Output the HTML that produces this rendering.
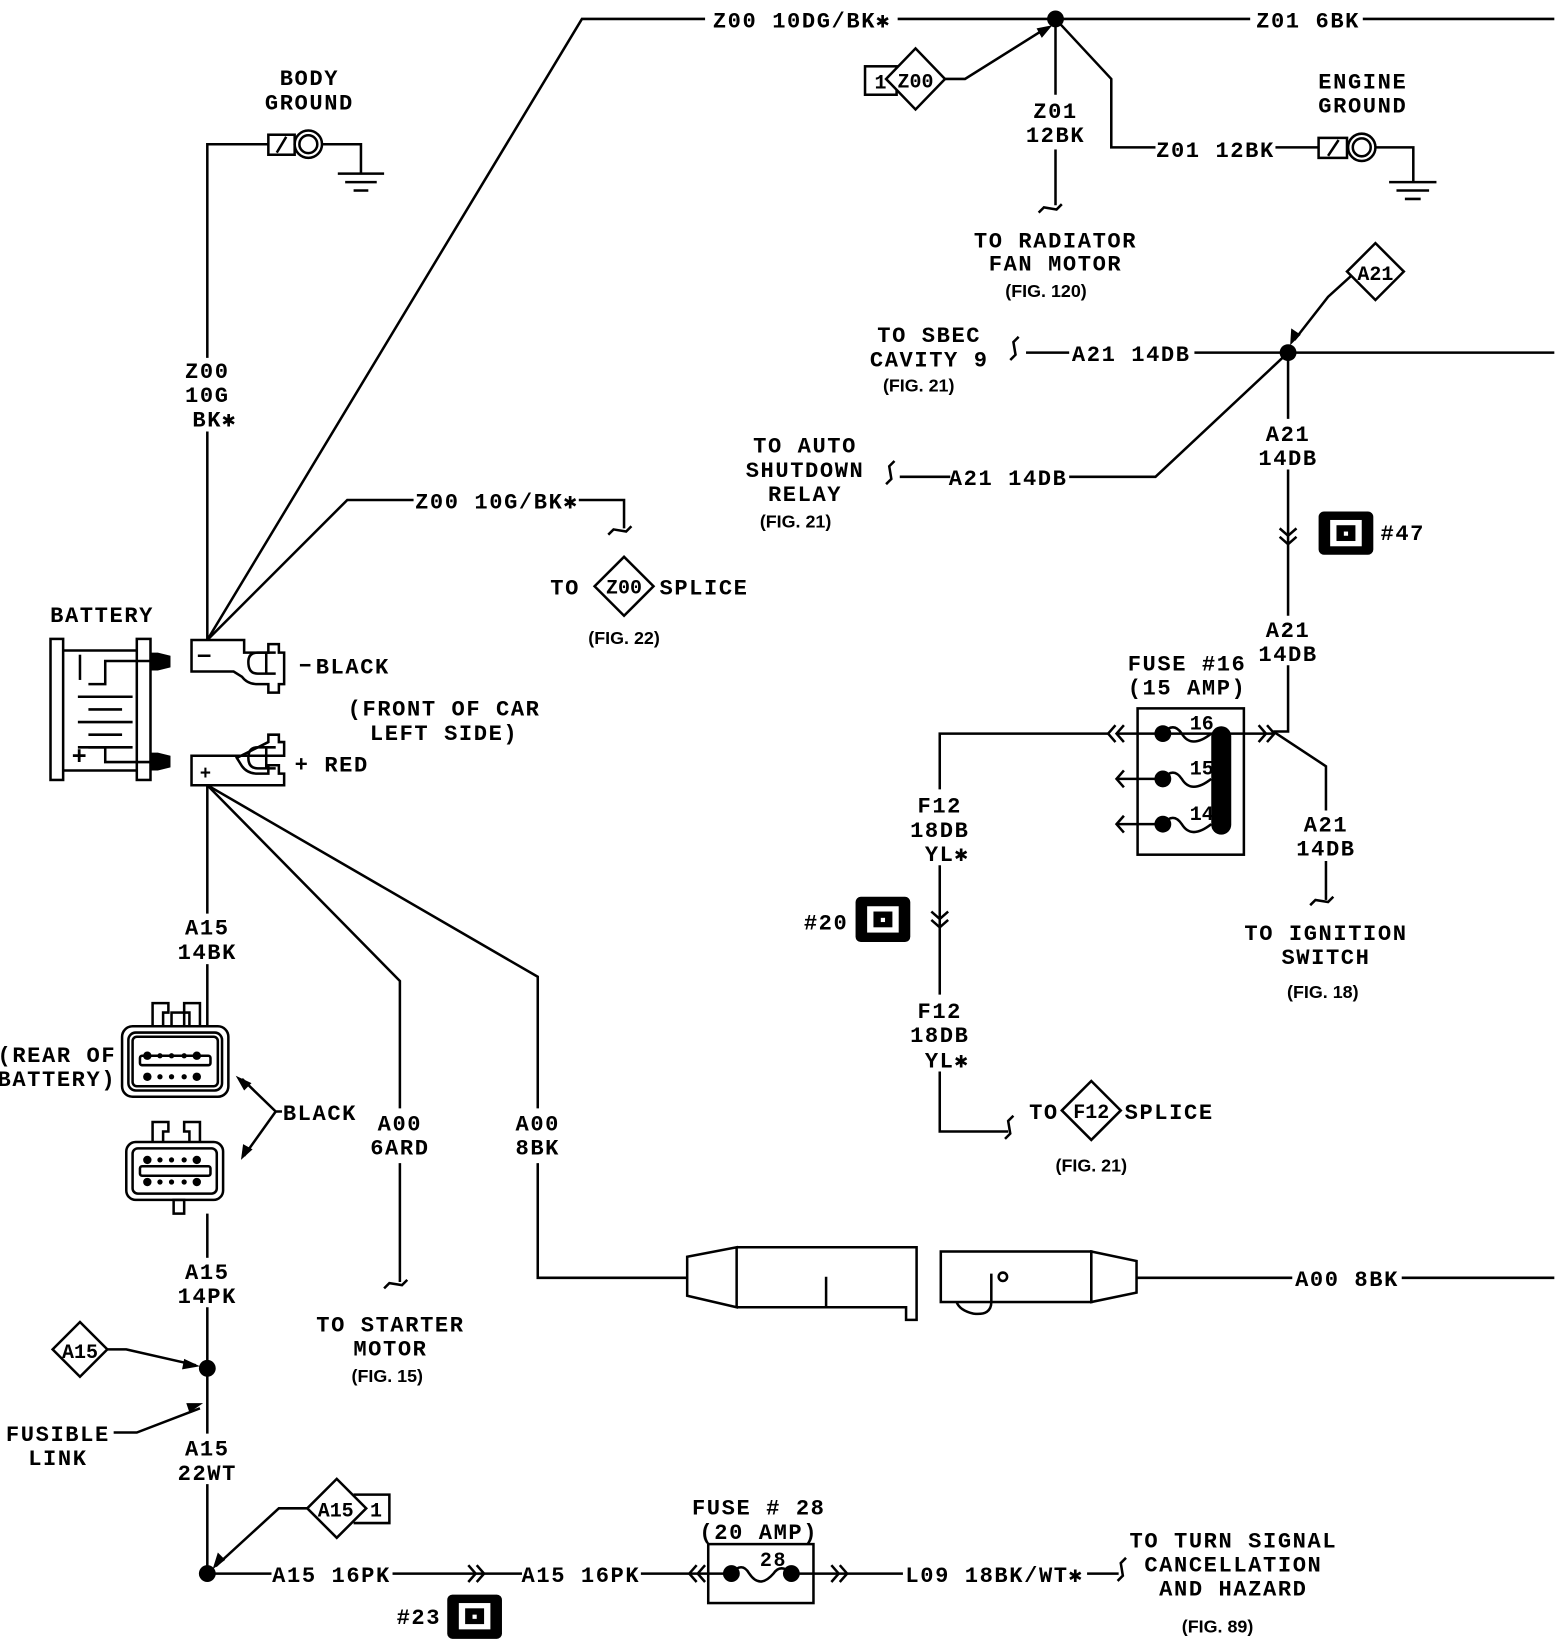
<!DOCTYPE html>
<html><head><meta charset="utf-8"><style>
html,body{margin:0;padding:0;background:#fff}
svg{display:block}
text{font-family:"Liberation Mono",monospace;font-size:21px;fill:#000;letter-spacing:1.5px;font-weight:bold}
.c{text-anchor:middle}
.f{font-family:"Liberation Sans",sans-serif;font-weight:bold;font-size:17px;letter-spacing:0}
</style></head><body>
<svg width="1568" height="1642" viewBox="0 0 1490 1560" preserveAspectRatio="none" xmlns="http://www.w3.org/2000/svg">
<g fill="none" stroke="#000" stroke-width="2.4">
<polyline points="197,608 553,18 670,18"/>
<line x1="853" y1="18" x2="1188" y2="18"/>
<line x1="1295" y1="18" x2="1477" y2="18"/>
<rect x="822" y="63" width="30" height="27"/>
<polygon points="842,75 870,46 898,75 870,104" fill="#fff"/>
<polyline points="898,75 917,75 992,28"/>
<line x1="1003" y1="18" x2="1003" y2="90"/>
<line x1="1003" y1="142" x2="1003" y2="195"/>
<path d="M987,202 l5,-5 l12,2 l5,-5"/>
<polyline points="1003,18 1056,75 1056,140 1098,140"/>
<line x1="1212" y1="140" x2="1253" y2="140"/>
<rect x="1253" y="131" width="27" height="19"/><line x1="1262" y1="148" x2="1272" y2="133"/>
<circle cx="1294" cy="140" r="13"/><circle cx="1294" cy="140" r="8.5"/>
<polyline points="1307,140 1343,140 1343,172"/>
<line x1="1320" y1="173" x2="1365" y2="173"/><line x1="1327" y1="181" x2="1358" y2="181"/><line x1="1335" y1="189" x2="1350" y2="189"/>
<line x1="197" y1="608" x2="197" y2="410"/>
<polyline points="197,340 197,137 255,137"/>
<rect x="255" y="128" width="25" height="19"/><line x1="263" y1="145" x2="272" y2="130"/>
<circle cx="293" cy="137" r="13"/><circle cx="293" cy="137" r="8.5"/>
<polyline points="306,137 343,137 343,164"/>
<line x1="321" y1="165" x2="365" y2="165"/><line x1="328" y1="173" x2="358" y2="173"/><line x1="336" y1="181" x2="350" y2="181"/>
<polyline points="197,608 330,475 393,475"/>
<polyline points="550,475 593,475 593,502"/>
<path d="M578,508 l5,-5 l12,2 l5,-5"/>
<polygon points="565,557 593,529 621,557 593,585"/>
<rect x="48" y="607" width="12" height="134"/>
<rect x="130" y="607" width="13" height="134"/>
<line x1="60" y1="618" x2="130" y2="618"/><line x1="60" y1="732" x2="130" y2="732"/>
<polyline points="143,628 100,628 100,650 84,650"/>
<line x1="74" y1="662" x2="126" y2="662"/><line x1="84" y1="674" x2="116" y2="674"/>
<line x1="74" y1="686" x2="126" y2="686"/><line x1="84" y1="698" x2="116" y2="698"/>
<line x1="74" y1="710" x2="126" y2="710"/>
<polyline points="84,710 100,710 100,724 143,724"/>
<line x1="76" y1="622" x2="76" y2="646"/>
<path d="M182,608 L232,608 L232,620 L255,620 L255,612 L265,612 L265,620 L270,620 L270,650 L265,650 L265,658 L255,658 L255,650 L245,650 Q235,650 230,643 L222,638 L182,638 Z"/>
<path d="M262,620 L245,620 Q236,620 236,629 Q236,640 245,640 L262,640"/>
<line x1="253" y1="620" x2="253" y2="640"/>
<line x1="188" y1="623" x2="200" y2="623"/>
<line x1="285" y1="632" x2="295" y2="632"/>
<path d="M182,746 L270,746 L270,735 L265,735 L265,727 L255,727 L255,735 L245,735 Q235,735 230,728 L225,720 L235,715 L245,710 L255,705 L255,698 L265,698 L265,705 L270,705 L270,718 L232,718 L232,718 L182,718 Z"/>
<path d="M262,710 L245,710 Q236,710 236,720 Q236,730 245,730 L262,730"/>
<line x1="253" y1="710" x2="253" y2="730"/>
<line x1="197" y1="746" x2="197" y2="868"/>
<line x1="197" y1="916" x2="197" y2="975"/>
<polyline points="197,746 380,932 380,1053"/>
<line x1="380" y1="1105" x2="380" y2="1218"/>
<path d="M365,1224 l5,-5 l12,2 l5,-5"/>
<polyline points="197,746 511,928 511,1053"/>
<polyline points="511,1105 511,1214 653,1214"/>
<polygon points="653,1194 700,1185 700,1242 653,1231"/>
<polyline points="700,1185 871,1185 871,1254 861,1254 861,1242 700,1242"/>
<line x1="785" y1="1213" x2="785" y2="1242"/>
<rect x="894" y="1189" width="143" height="48"/>
<polygon points="1037,1189 1080,1198 1080,1228 1037,1237"/>
<circle cx="953" cy="1213" r="4"/>
<path d="M942,1210 L942,1237 Q942,1250 925,1248 Q912,1245 909,1237"/>
<line x1="1080" y1="1214" x2="1228" y2="1214"/>
<line x1="1332" y1="1214" x2="1477" y2="1214"/>
<rect x="116" y="975" width="101" height="67" rx="10"/>
<rect x="122" y="981" width="89" height="55" rx="7"/>
<rect x="126" y="985" width="81" height="47" rx="4"/>
<rect x="133" y="1003" width="67" height="9" rx="2"/>
<polyline points="145,975 145,953 160,953 160,962 155,962 155,975"/>
<polyline points="180,975 180,962 175,962 175,953 190,953 190,975"/>
<rect x="163" y="962" width="12" height="13"/>
<rect x="120" y="1085" width="92" height="55" rx="9"/>
<rect x="126" y="1091" width="80" height="43" rx="5"/>
<rect x="133" y="1108" width="67" height="9" rx="2"/>
<polyline points="145,1085 145,1066 160,1066 160,1075 155,1075 155,1085"/>
<polyline points="180,1085 180,1075 175,1075 175,1066 190,1066 190,1085"/>
<rect x="165" y="1140" width="10" height="13"/>
<line x1="197" y1="1153" x2="197" y2="1195"/>
<polyline points="268,1056 262,1056 230,1025"/>
<polyline points="262,1056 232,1098"/>
<line x1="197" y1="1242" x2="197" y2="1362"/>
<line x1="197" y1="1410" x2="197" y2="1495"/>
<polygon points="50,1282 76,1256 102,1282 76,1308"/>
<polyline points="102,1282 120,1282 186,1297"/>
<polyline points="108,1361 130,1361 190,1338"/>
<polygon points="292,1433 320,1405 348,1433 320,1461"/>
<polyline points="336,1420 370,1420 370,1447 336,1447"/>
<polyline points="292,1433 265,1433 205,1488"/>
<line x1="197" y1="1495" x2="258" y2="1495"/>
<line x1="373" y1="1495" x2="460" y2="1495"/>
<path d="M445,1487 l7,8 l-7,8 M453,1487 l7,8 l-7,8"/>
<line x1="460" y1="1495" x2="496" y2="1495"/>
<line x1="609" y1="1495" x2="690" y2="1495"/>
<path d="M662,1487 l-7,8 l7,8 M670,1487 l-7,8 l7,8"/>
<rect x="673" y="1467" width="100" height="56"/>
<path d="M695,1495 Q705,1483 712,1495 Q722,1510 735,1495 Q742,1485 752,1495"/>
<line x1="752" y1="1495" x2="805" y2="1495"/>
<path d="M790,1487 l7,8 l-7,8 M798,1487 l7,8 l-7,8"/>
<line x1="805" y1="1495" x2="858" y2="1495"/>
<line x1="1033" y1="1495" x2="1063" y2="1495"/>
<path d="M1070,1480 l-5,5 l2,12 l-5,5"/>
<line x1="975" y1="335" x2="1016" y2="335"/>
<path d="M968,320 l-5,5 l2,12 l-5,5"/>
<line x1="1135" y1="335" x2="1477" y2="335"/>
<polygon points="1280,258 1307,231 1334,258 1307,285"/>
<polyline points="1284,262 1262,282 1230,323"/>
<polyline points="1224,335 1098,453 1016,453"/>
<line x1="855" y1="453" x2="903" y2="453"/>
<path d="M850,438 l-5,5 l2,12 l-5,5"/>
<line x1="1224" y1="335" x2="1224" y2="398"/>
<line x1="1224" y1="446" x2="1224" y2="585"/>
<path d="M1216,502 l8,7 l8,-7 M1216,510 l8,7 l8,-7"/>
<polyline points="1224,632 1224,695 1210,695"/>
<polyline points="1210,695 1260,728 1260,770"/>
<line x1="1260" y1="818" x2="1260" y2="855"/>
<path d="M1245,860 l5,-5 l12,2 l5,-5"/>
<rect x="1081" y="673" width="101" height="139"/>
<line x1="1062" y1="697" x2="1210" y2="697"/>
<path d="M1196,689 l7,8 l-7,8 M1204,689 l7,8 l-7,8"/>
<path d="M1060,689 l-7,8 l7,8 M1068,689 l-7,8 l7,8"/>
<polyline points="1053,697 893,697 893,750"/>
<line x1="1062" y1="740" x2="1105" y2="740"/><path d="M1068,732 l-7,8 l7,8"/>
<line x1="1062" y1="783" x2="1105" y2="783"/><path d="M1068,775 l-7,8 l7,8"/>
<path d="M1105,697 Q1115,685 1123,697 Q1132,712 1151,697"/>
<path d="M1105,740 Q1115,728 1123,740 Q1132,755 1151,740"/>
<path d="M1105,783 Q1115,771 1123,783 Q1132,798 1151,783"/>
<line x1="893" y1="822" x2="893" y2="945"/>
<path d="M885,866 l8,7 l8,-7 M885,874 l8,7 l8,-7"/>
<polyline points="893,1018 893,1075 958,1075"/>
<path d="M963,1060 l-5,5 l2,12 l-5,5"/>
<polygon points="1009,1055 1037,1027 1065,1055 1037,1083"/>
</g>
<g fill="#000">
<circle cx="1003" cy="18" r="8"/>
<circle cx="1224" cy="335" r="8"/>
<circle cx="197" cy="1300" r="8"/>
<circle cx="197" cy="1495" r="8"/>
<polygon points="143,620 150,620 162,623 162,634 150,637 143,637"/>
<polygon points="143,715 150,715 162,718 162,729 150,732 143,732"/>
<polygon points="1000,24 985,27 990,36"/>
<polygon points="190,1298 175,1291 173,1301"/>
<polygon points="193,1333 177,1333 180,1342"/>
<polygon points="202,1491 207,1475 214,1482"/>
<polygon points="1226,328 1227,312 1236,318"/>
<polygon points="224,1022 239,1029 232,1036"/>
<polygon points="229,1102 231,1087 240,1092"/>
<circle cx="1105" cy="697" r="8"/><circle cx="1105" cy="740" r="8"/><circle cx="1105" cy="783" r="8"/>
<rect x="1151" y="690" width="19" height="103" rx="9.5"/>
<circle cx="695" cy="1495" r="8"/><circle cx="752" cy="1495" r="8"/>
<circle cx="140" cy="1003" r="4"/><circle cx="187" cy="1003" r="4"/><circle cx="140" cy="1023" r="4"/><circle cx="187" cy="1023" r="4"/>
<circle cx="152" cy="1003" r="2.5"/><circle cx="163" cy="1003" r="2.5"/><circle cx="175" cy="1003" r="2.5"/>
<circle cx="152" cy="1023" r="2.5"/><circle cx="163" cy="1023" r="2.5"/><circle cx="175" cy="1023" r="2.5"/>
<circle cx="140" cy="1102" r="4"/><circle cx="187" cy="1102" r="4"/><circle cx="140" cy="1123" r="4"/><circle cx="187" cy="1123" r="4"/>
<circle cx="152" cy="1102" r="2.5"/><circle cx="163" cy="1102" r="2.5"/><circle cx="175" cy="1102" r="2.5"/>
<circle cx="152" cy="1123" r="2.5"/><circle cx="163" cy="1123" r="2.5"/><circle cx="175" cy="1123" r="2.5"/>
</g>
<g>
<rect x="1253" y="486" width="52" height="41" rx="5" fill="#000"/><rect x="1264" y="494" width="30" height="25" fill="#fff"/><rect x="1270" y="499" width="18" height="15" fill="#000"/><rect x="1277" y="505" width="4" height="4" fill="#fff"/>
<rect x="813" y="852" width="52" height="43" rx="5" fill="#000"/><rect x="824" y="861" width="30" height="25" fill="#fff"/><rect x="830" y="866" width="18" height="15" fill="#000"/><rect x="837" y="872" width="4" height="4" fill="#fff"/>
<rect x="425" y="1515" width="52" height="42" rx="5" fill="#000"/><rect x="436" y="1523" width="30" height="25" fill="#fff"/><rect x="442" y="1528" width="18" height="15" fill="#000"/><rect x="449" y="1534" width="4" height="4" fill="#fff"/>
</g>
<g>
<text x="762" y="26" class="c">Z00 10DG/BK✱</text>
<text x="1243" y="26" class="c">Z01 6BK</text>
<text x="831" y="84" style="font-size:19px">1</text>
<text x="870" y="83" class="c" style="font-size:19px;letter-spacing:0">Z00</text>
<text x="1003" y="112" class="c">Z01</text>
<text x="1003" y="135" class="c">12BK</text>
<text x="1155" y="149" class="c">Z01 12BK</text>
<text x="1295" y="84" class="c">ENGINE</text>
<text x="1295" y="107" class="c">GROUND</text>
<text x="1003" y="235" class="c">TO RADIATOR</text>
<text x="1003" y="257" class="c">FAN MOTOR</text>
<text x="994" y="282" class="c f">(FIG. 120)</text>
<text x="294" y="81" class="c">BODY</text>
<text x="294" y="104" class="c">GROUND</text>
<text x="197" y="359" class="c">Z00</text>
<text x="197" y="382" class="c">10G</text>
<text x="204" y="405" class="c">BK✱</text>
<text x="472" y="483" class="c">Z00 10G/BK✱</text>
<text x="537" y="565" class="c">TO</text>
<text x="593" y="564" class="c" style="font-size:19px;letter-spacing:0">Z00</text>
<text x="669" y="565" class="c">SPLICE</text>
<text x="593" y="612" class="c f">(FIG. 22)</text>
<text x="97" y="591" class="c">BATTERY</text>
<text x="76" y="726" class="c" style="font-size:24px">+</text>
<text x="196" y="740" class="c" style="font-size:18px">+</text>
<text x="300" y="640">BLACK</text>
<text x="280" y="733">+ RED</text>
<text x="422" y="680" class="c">(FRONT OF CAR</text>
<text x="422" y="703" class="c">LEFT SIDE)</text>
<text x="197" y="888" class="c">A15</text>
<text x="197" y="911" class="c">14BK</text>
<text x="54" y="1009" class="c">(REAR OF</text>
<text x="54" y="1032" class="c">BATTERY)</text>
<text x="304" y="1064" class="c">BLACK</text>
<text x="380" y="1074" class="c">A00</text>
<text x="380" y="1097" class="c">6ARD</text>
<text x="511" y="1074" class="c">A00</text>
<text x="511" y="1097" class="c">8BK</text>
<text x="371" y="1265" class="c">TO STARTER</text>
<text x="371" y="1288" class="c">MOTOR</text>
<text x="368" y="1313" class="c f">(FIG. 15)</text>
<text x="1280" y="1222" class="c">A00 8BK</text>
<text x="197" y="1215" class="c">A15</text>
<text x="197" y="1238" class="c">14PK</text>
<text x="76" y="1290" class="c" style="font-size:19px;letter-spacing:0">A15</text>
<text x="55" y="1369" class="c">FUSIBLE</text>
<text x="55" y="1392" class="c">LINK</text>
<text x="197" y="1383" class="c">A15</text>
<text x="197" y="1406" class="c">22WT</text>
<text x="319" y="1441" class="c" style="font-size:19px;letter-spacing:0">A15</text>
<text x="358" y="1441" class="c" style="font-size:19px">1</text>
<text x="315" y="1503" class="c">A15 16PK</text>
<text x="552" y="1503" class="c">A15 16PK</text>
<text x="398" y="1543" class="c">#23</text>
<text x="721" y="1439" class="c">FUSE # 28</text>
<text x="721" y="1462" class="c">(20 AMP)</text>
<text x="735" y="1488" class="c" style="font-size:19px">28</text>
<text x="945" y="1503" class="c">L09 18BK/WT✱</text>
<text x="1172" y="1470" class="c">TO TURN SIGNAL</text>
<text x="1172" y="1493" class="c">CANCELLATION</text>
<text x="1172" y="1516" class="c">AND HAZARD</text>
<text x="1157" y="1551" class="c f">(FIG. 89)</text>
<text x="883" y="325" class="c">TO SBEC</text>
<text x="883" y="348" class="c">CAVITY 9</text>
<text x="873" y="372" class="c f">(FIG. 21)</text>
<text x="1075" y="343" class="c">A21 14DB</text>
<text x="1307" y="266" class="c" style="font-size:19px;letter-spacing:0">A21</text>
<text x="765" y="430" class="c">TO AUTO</text>
<text x="765" y="453" class="c">SHUTDOWN</text>
<text x="765" y="476" class="c">RELAY</text>
<text x="756" y="501" class="c f">(FIG. 21)</text>
<text x="958" y="461" class="c">A21 14DB</text>
<text x="1224" y="419" class="c">A21</text>
<text x="1224" y="442" class="c">14DB</text>
<text x="1333" y="513" class="c">#47</text>
<text x="1224" y="605" class="c">A21</text>
<text x="1224" y="628" class="c">14DB</text>
<text x="1128" y="637" class="c">FUSE #16</text>
<text x="1128" y="660" class="c">(15 AMP)</text>
<text x="1142" y="693" class="c" style="font-size:19px;letter-spacing:0">16</text>
<text x="1142" y="736" class="c" style="font-size:19px;letter-spacing:0">15</text>
<text x="1142" y="779" class="c" style="font-size:19px;letter-spacing:0">14</text>
<text x="1260" y="790" class="c">A21</text>
<text x="1260" y="813" class="c">14DB</text>
<text x="1260" y="893" class="c">TO IGNITION</text>
<text x="1260" y="916" class="c">SWITCH</text>
<text x="1257" y="948" class="c f">(FIG. 18)</text>
<text x="893" y="772" class="c">F12</text>
<text x="893" y="795" class="c">18DB</text>
<text x="900" y="818" class="c">YL✱</text>
<text x="785" y="883" class="c">#20</text>
<text x="893" y="967" class="c">F12</text>
<text x="893" y="990" class="c">18DB</text>
<text x="900" y="1014" class="c">YL✱</text>
<text x="992" y="1063" class="c">TO</text>
<text x="1037" y="1062" class="c" style="font-size:19px;letter-spacing:0">F12</text>
<text x="1111" y="1063" class="c">SPLICE</text>
<text x="1037" y="1113" class="c f">(FIG. 21)</text>
</g>
</svg>
</body></html>
